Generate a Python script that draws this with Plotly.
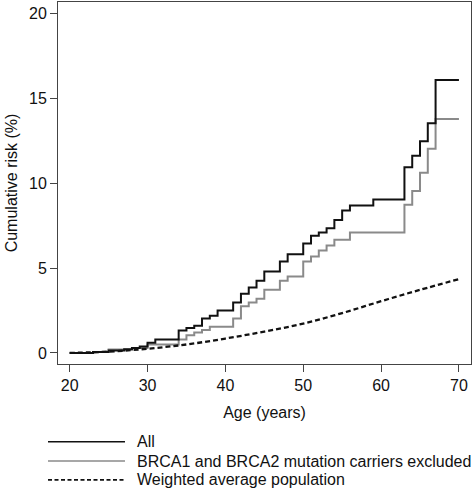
import plotly.graph_objects as go

# Step curve: All
all_age = [20, 23, 25, 27, 28, 29, 30, 31, 34, 35, 36, 37, 38, 39, 41, 42, 43, 44, 45, 47, 48,
           50, 51, 52, 53, 54, 55, 56, 59, 63, 64, 65, 66, 67, 70]
all_risk = [0, 0.05, 0.15, 0.22, 0.3, 0.38, 0.6, 0.8, 1.32, 1.47, 1.6, 2.03, 2.2, 2.5, 2.98, 3.49,
            3.86, 4.25, 4.8, 5.39, 5.82, 6.45, 6.9, 7.1, 7.35, 7.84, 8.39, 8.69, 9.05, 10.94,
            11.62, 12.47, 13.53, 16.08, 16.08]

# Step curve: BRCA1 and BRCA2 mutation carriers excluded
excl_age = [20, 23, 25, 28, 30, 34, 35, 36, 37, 38, 41, 42, 43, 44, 45, 47, 48, 50, 51, 52, 53,
            54, 56, 63, 64, 65, 66, 67, 70]
excl_risk = [0, 0.05, 0.2, 0.3, 0.5, 0.8, 1.05, 1.2, 1.35, 1.55, 2.03, 2.75, 2.98, 3.2, 3.73,
             4.25, 4.5, 5.39, 5.69, 6.04, 6.33, 6.67, 7.1, 8.73, 9.55, 10.62, 12.04, 13.78, 13.78]

# Weighted average population
pop_age = [20, 25, 30, 35, 40, 45, 50, 55, 60, 65, 70]
pop_risk = [0, 0.08, 0.25, 0.5, 0.85, 1.26, 1.73, 2.35, 3.05, 3.72, 4.35]

x_ticks = [20, 30, 40, 50, 60, 70]
y_ticks = [0, 5, 10, 15, 20]

legend_labels = ["All", "BRCA1 and BRCA2 mutation carriers excluded", "Weighted average population"]

FONT = "Liberation Sans, Arial, Helvetica, sans-serif"
FS = 16
BLACK = "#111111"
GREY = "#8a8a8a"

fig = go.Figure()
fig.add_trace(go.Scatter(x=excl_age, y=excl_risk, mode="lines", line=dict(shape="hv", color=GREY, width=2),
                         name=legend_labels[1], showlegend=False))
fig.add_trace(go.Scatter(x=all_age, y=all_risk, mode="lines", line=dict(shape="hv", color=BLACK, width=2),
                         name=legend_labels[0], showlegend=False))
fig.add_trace(go.Scatter(x=pop_age, y=pop_risk, mode="lines",
                         line=dict(shape="spline", color=BLACK, width=2.3, dash="5px,3px"),
                         name=legend_labels[2], showlegend=False))

# manual legend below the plot
rows = [-0.2146, -0.268, -0.320]
styles = [dict(color=BLACK, width=1.6), dict(color=GREY, width=1.6), dict(color=BLACK, width=1.8, dash="4px,2.5px")]
for yy, st, lab in zip(rows, styles, legend_labels):
    fig.add_shape(type="line", xref="paper", yref="paper", x0=-0.0242, x1=0.1622, y0=yy, y1=yy, line=st)
    fig.add_annotation(xref="paper", yref="paper", x=0.1864, y=yy, text=lab, showarrow=False,
                       xanchor="left", yanchor="middle", font=dict(family=FONT, size=FS, color="#111"))

axis_common = dict(showgrid=False, zeroline=False, showline=True, mirror=True, linecolor="#444",
                   linewidth=1, ticks="outside", ticklen=7, tickcolor="#444", tickwidth=1,
                   tickfont=dict(family=FONT, size=FS, color="#111"))

fig.update_layout(
    width=474, height=492,
    margin=dict(l=58, r=3, t=2, b=128),
    plot_bgcolor="white", paper_bgcolor="white",
    xaxis=dict(range=[18.5, 71.55], tickvals=x_ticks, ticktext=[str(v) for v in x_ticks],
               title=dict(text="Age (years)", font=dict(family=FONT, size=FS, color="#111"), standoff=13),
               **axis_common),
    yaxis=dict(range=[-0.65, 20.68], tickvals=y_ticks, ticktext=[str(v) for v in y_ticks],
               title=dict(text="Cumulative risk (%)", font=dict(family=FONT, size=FS, color="#111"), standoff=7),
               **axis_common),
)

fig.write_html("out.html", config={"displayModeBar": False},
               post_script="document.body.style.margin='0';document.body.style.padding='0';")
